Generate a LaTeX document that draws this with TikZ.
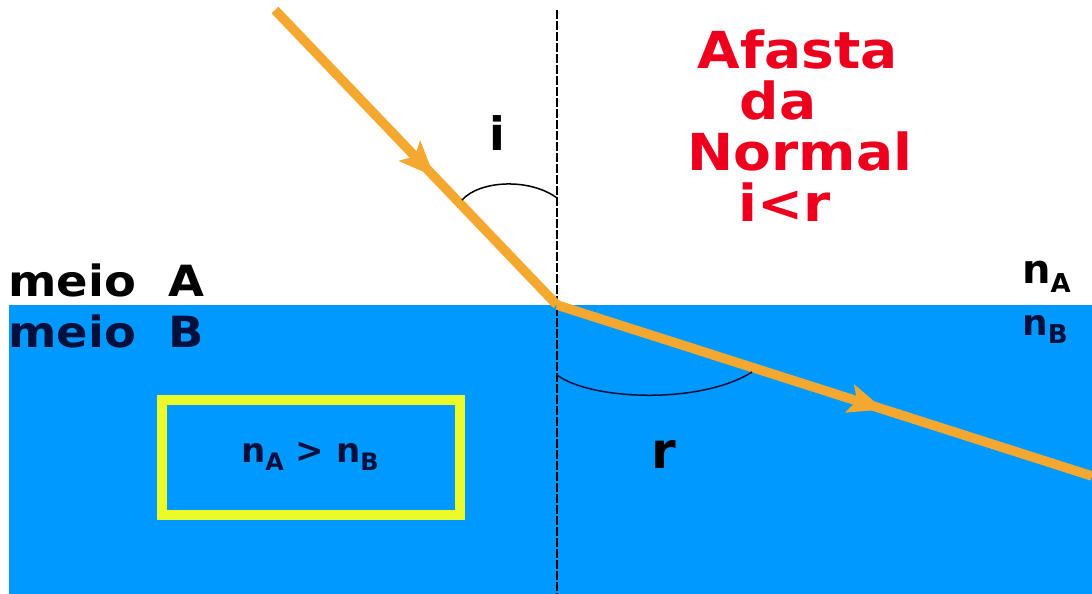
\documentclass[tikz,border=0pt]{standalone}
\usepackage{fontspec}
\setmainfont{DejaVu Sans}
\usetikzlibrary{arrows.meta,decorations.markings}
\definecolor{water}{RGB}{0,153,255}
\definecolor{ray}{RGB}{245,168,48}
\definecolor{boxy}{RGB}{235,250,40}
\definecolor{redtxt}{RGB}{236,0,30}
\definecolor{navy}{RGB}{0,16,60}
\tikzset{
  lightray/.style={draw=ray, line width=9.5pt,
    postaction={decorate},
    decoration={markings, mark=at position #1 with {\fill[ray] (6pt,0pt) -- (-30pt,15pt) -- (-22pt,0pt) -- (-30pt,-15pt) -- cycle;}}},
  lbl/.style={inner sep=0pt, font=\bfseries},
  redline/.style={lbl, text=redtxt, anchor=base, xscale=1.08},
}
\newcommand{\fs}[1]{\fontsize{#1}{#1}\selectfont}
\newcommand{\sub}[2]{\raisebox{-0.45ex}{\fontsize{#1}{#1}\selectfont #2}}
\begin{document}
\begin{tikzpicture}[x=1pt,y=-1pt]
\useasboundingbox (0,0) rectangle (1092,594);
\fill[white] (0,0) rectangle (1092,594);
% medium B
\fill[water] (9,305) rectangle (1092,594);
% normal
\coordinate (ntop) at (557,10);
\coordinate (nbot) at (557,594);
\coordinate (O) at (557,305);
\draw[black, line width=1.8pt, dash pattern=on 9pt off 2pt] (ntop) -- (nbot);
% rays
\coordinate (src) at (275,10);
\coordinate (dst) at (1092,476);
\draw[lightray=0.55] (src) -- (O);
\draw[lightray=0.6] (O) -- (dst);
% angle arcs
\coordinate (ia) at (462,200);
\coordinate (ib) at (557,198);
\draw[black, line width=1.5pt] (ia) .. controls (480,180) and (530,178) .. (ib);
\coordinate (ra) at (557,375);
\coordinate (rb) at (752,372);
\draw[navy, line width=1.5pt] (ra) .. controls (590,400) and (700,405) .. (rb);
% labels
\node[lbl, anchor=base] (li) at (497,150) {\fs{46}i};
\node[lbl, anchor=base] (lr) at (664,468) {\fs{50}r};
\node[lbl, anchor=base west, xscale=1.08] (ma) at (8,296) {\fs{43}meio\ \ A};
\node[lbl, anchor=base west, xscale=1.08, text=navy] (mb) at (8,347) {\fs{43}meio\ \ B};
\node[lbl, anchor=base west] (na) at (1022,283) {\fs{40}n\sub{26}{A}};
\node[lbl, anchor=base west, text=navy] (nb) at (1022,335) {\fs{36}n\sub{26}{B}};
% red text
\node[redline] (t1) at (798,68) {\fs{51}Afasta};
\node[redline] (t2) at (778,119) {\fs{51}da};
\node[redline] (t3) at (800,170) {\fs{51}Normal};
\node[redline] (t4) at (785,221) {\fs{51}i<r};
% yellow box
\node[draw=boxy, line width=10pt, minimum width=298pt, minimum height=115pt, inner sep=0pt] (box) at (311,457.5) {};
\node[lbl, anchor=base, text=navy] (cmp) at (310,462) {\fs{34}n\sub{24}{A} > n\sub{24}{B}};
\end{tikzpicture}
\end{document}
